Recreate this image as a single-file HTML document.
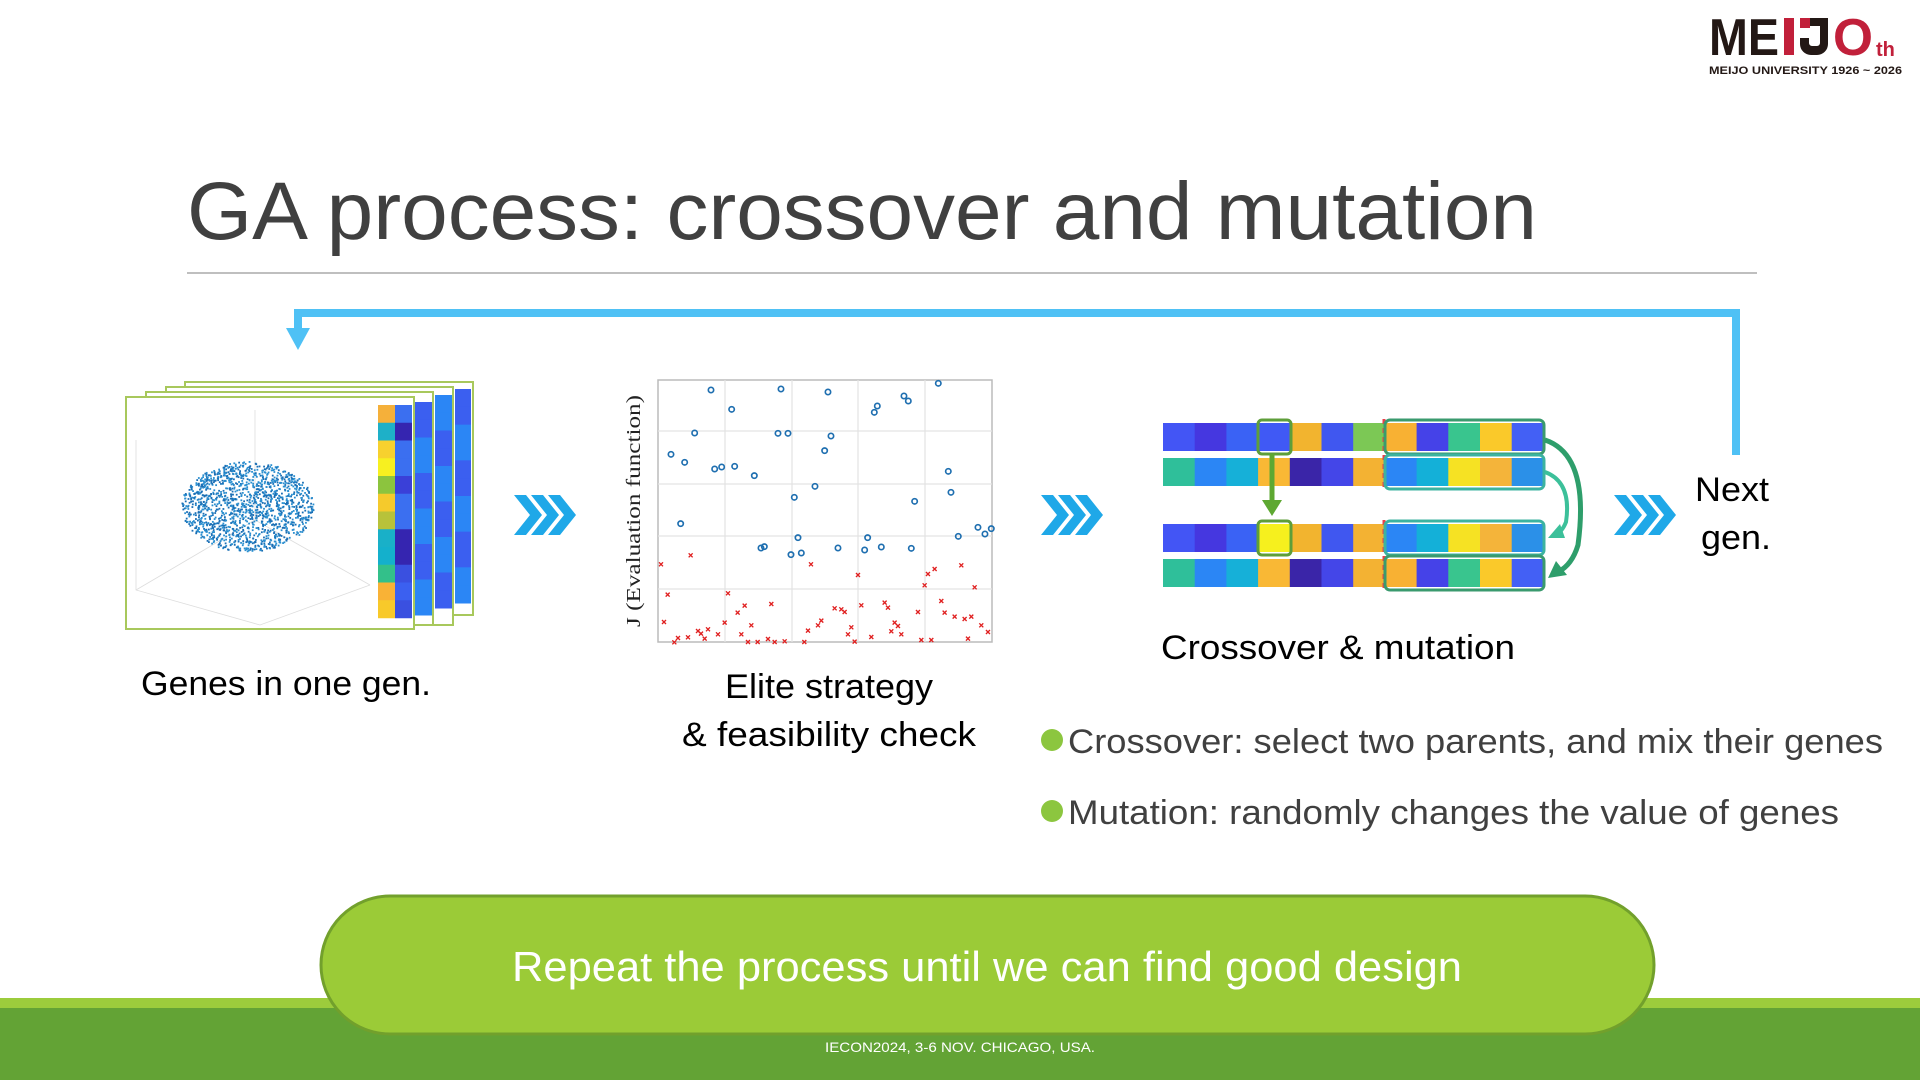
<!DOCTYPE html>
<html><head><meta charset="utf-8"><style>
html,body{margin:0;padding:0;background:#fff;}
svg{display:block;}
text{font-family:"Liberation Sans",sans-serif;}
</style></head><body>
<svg id="s" width="1920" height="1080" viewBox="0 0 1920 1080" xmlns="http://www.w3.org/2000/svg">
<rect width="1920" height="1080" fill="#fff"/>
<!-- logo -->
<text x="1709" y="55" font-size="52" font-weight="bold" fill="#231815" textLength="70" lengthAdjust="spacingAndGlyphs">ME</text>
<rect x="1784" y="18" width="10" height="37" fill="#c1203a"/>
<path d="M1800 18 h28 v26 a11 11 0 0 1 -11 11 h-6 a11 11 0 0 1 -11 -11 v-6 h9 v5 a3 3 0 0 0 3 3 h5 a3 3 0 0 0 3 -3 v-17 h-20 z" fill="#231815"/>
<rect x="1800" y="18" width="10" height="10" fill="#c1203a"/>
<text x="1833" y="55" font-size="52" font-weight="bold" fill="#c1203a" textLength="40" lengthAdjust="spacingAndGlyphs">O</text>
<text x="1876" y="56" font-size="20" font-weight="bold" fill="#c1203a">th</text>
<text x="1709" y="74" font-size="11" font-weight="bold" fill="#231815" textLength="193" lengthAdjust="spacingAndGlyphs">MEIJO UNIVERSITY 1926 ~ 2026</text>

<!-- title -->
<text x="187" y="239" font-size="82" fill="#404040" textLength="1350" lengthAdjust="spacingAndGlyphs">GA process: crossover and mutation</text>
<line x1="187" y1="273" x2="1757" y2="273" stroke="#bfbfbf" stroke-width="2"/>

<!-- feedback arrow -->
<polyline points="1736,455 1736,313 298,313 298,332" fill="none" stroke="#4fc1f5" stroke-width="8" stroke-linejoin="miter"/>
<polygon points="286,328 310,328 298,350" fill="#4fc1f5"/>

<!-- gene frames -->
<g stroke="#a8c85c" stroke-width="2" fill="#fff">
<rect x="185" y="382" width="288" height="233"/>
<rect x="166" y="387" width="287" height="238"/>
<rect x="146" y="392" width="287" height="233"/>
<rect x="126" y="397" width="288" height="232"/>
</g>
<g id="back"></g>
<g id="front"></g>
<g id="scatter3d"></g>

<!-- chevrons -->
<g fill="#1fa8e8">
<g id="chev1" transform="translate(514,495)">
<polygon points="0,0 12,0 28,20 12,40 0,40 16,20"/>
<polygon transform="translate(17,0)" points="0,0 12,0 28,20 12,40 0,40 16,20"/>
<polygon transform="translate(34,0)" points="0,0 12,0 28,20 12,40 0,40 16,20"/>
</g>
<g transform="translate(1041,495)">
<polygon points="0,0 12,0 28,20 12,40 0,40 16,20"/>
<polygon transform="translate(17,0)" points="0,0 12,0 28,20 12,40 0,40 16,20"/>
<polygon transform="translate(34,0)" points="0,0 12,0 28,20 12,40 0,40 16,20"/>
</g>
<g transform="translate(1614,495)">
<polygon points="0,0 12,0 28,20 12,40 0,40 16,20"/>
<polygon transform="translate(17,0)" points="0,0 12,0 28,20 12,40 0,40 16,20"/>
<polygon transform="translate(34,0)" points="0,0 12,0 28,20 12,40 0,40 16,20"/>
</g>
</g>

<!-- scatter plot -->
<g id="plot">
<rect x="658" y="380" width="334" height="262" fill="#fff" stroke="#bbb" stroke-width="1.5"/>
<g stroke="#e3e3e3" stroke-width="1.2">
<line x1="725" y1="380" x2="725" y2="642"/><line x1="792" y1="380" x2="792" y2="642"/>
<line x1="858" y1="380" x2="858" y2="642"/><line x1="925" y1="380" x2="925" y2="642"/>
<line x1="658" y1="431" x2="992" y2="431"/><line x1="658" y1="484" x2="992" y2="484"/>
<line x1="658" y1="536" x2="992" y2="536"/><line x1="658" y1="589" x2="992" y2="589"/>
</g>
<text transform="translate(640,627) rotate(-90)" font-family="Liberation Serif,serif" font-size="20" fill="#222" textLength="232" lengthAdjust="spacingAndGlyphs" style="font-family:'Liberation Serif',serif">J (Evaluation function)</text>
<g id="pts" transform="translate(620,370) scale(0.3333)"></g>
</g>

<!-- crossover graphic -->
<g id="cross"></g>

<!-- labels -->
<g fill="#000" font-size="34">
<text x="141" y="695" textLength="290" lengthAdjust="spacingAndGlyphs">Genes in one gen.</text>
<text x="725" y="698" textLength="208" lengthAdjust="spacingAndGlyphs">Elite strategy</text>
<text x="682" y="746" textLength="294" lengthAdjust="spacingAndGlyphs">&amp; feasibility check</text>
<text x="1161" y="659" textLength="354" lengthAdjust="spacingAndGlyphs">Crossover &amp; mutation</text>
<text x="1695" y="501" textLength="74" lengthAdjust="spacingAndGlyphs">Next</text>
<text x="1701" y="549" textLength="70" lengthAdjust="spacingAndGlyphs">gen.</text>
</g>
<circle cx="1052" cy="740" r="11" fill="#8cc63f"/>
<circle cx="1052" cy="811" r="11" fill="#8cc63f"/>
<g fill="#404040" font-size="34">
<text x="1068" y="753" textLength="815" lengthAdjust="spacingAndGlyphs">Crossover: select two parents, and mix their genes</text>
<text x="1068" y="824" textLength="771" lengthAdjust="spacingAndGlyphs">Mutation: randomly changes the value of genes</text>
</g>

<!-- bottom -->
<rect x="0" y="998" width="1920" height="10" fill="#9ccc3c"/>
<rect x="0" y="1008" width="1920" height="72" fill="#63a335"/>
<rect x="321" y="896" width="1333" height="138" rx="69" ry="69" fill="#9bcb37" stroke="#72a02c" stroke-width="3"/>
<text x="512" y="981" font-size="42" fill="#fff" textLength="950" lengthAdjust="spacingAndGlyphs">Repeat the process until we can find good design</text>
<text x="825" y="1052" font-size="14" fill="#fff" textLength="270" lengthAdjust="spacingAndGlyphs">IECON2024, 3-6 NOV. CHICAGO, USA.</text>
</svg>
<script>
var NS="http://www.w3.org/2000/svg";
function el(p,t,a){var e=document.createElementNS(NS,t);for(var k in a)e.setAttribute(k,a[k]);p.appendChild(e);return e;}
// back strips
var back=document.getElementById('back');
var bl=['#3b5ff0','#3548e0','#2b86f5','#3525b0'];
[[415,402,17,213],[435,395,17,213],[455,389,16,214]].forEach(function(s,j){
 for(var i=0;i<12;i++){el(back,'rect',{x:s[0],y:s[1]+i*s[3]/12,width:s[2],height:s[3]/12+0.5,fill:bl[(i*3+j*2+i%2)%4]});}
});
var front=document.getElementById('front');
var c1=['#f5b03a','#1eb0c8','#f7d12e','#f7f020','#8cc43e','#f5ca2c','#b8c23a','#19b0c8','#14b0cc','#33c08a','#f9b236','#f8c92a'];
var c2=['#3b6ff0','#3525b0','#3b6ff0','#3b6ff0','#3a40d8','#3b6ff0','#3b6ff0','#3525b0','#3525b0','#3a50e0','#3b60f0','#3a50e0'];
for(var i=0;i<12;i++){el(front,'rect',{x:378,y:405+i*17.75,width:17,height:18,fill:c1[i]});el(front,'rect',{x:395,y:405+i*17.75,width:17,height:18,fill:c2[i]});}
// 3d scatter
var sc=document.getElementById('scatter3d');
var g=el(sc,'g',{stroke:'#ddd','stroke-width':'0.8',fill:'none'});
el(g,'polyline',{points:'136,440 136,590 260,625 370,585'});
el(g,'line',{x1:136,y1:590,x2:255,y2:520});el(g,'line',{x1:255,y1:410,x2:255,y2:520});el(g,'line',{x1:255,y1:520,x2:370,y2:585});
var seed=7;function r(){seed=(seed*16807)%2147483647;return seed/2147483647;}
for(var i=0;i<1500;i++){var a=r()*6.283,d=Math.sqrt(r());var x=247+Math.cos(a)*d*66,y=506+Math.sin(a)*d*45;el(sc,'rect',{x:x,y:y,width:1.8,height:1.8,fill:(r()<0.5?'#1a6fb5':'#2a8fd0')});}
// plot points
var pts=document.getElementById('pts');
var C=[[273,60],[483,57],[624,66],[955,40],[852,78],[865,93],[772,108],[763,127],[335,118],[224,189],[474,190],[504,190],[633,198],[153,253],[194,277],[614,242],[284,297],[305,291],[344,289],[403,317],[585,349],[523,382],[985,304],[993,367],[884,394],[182,461],[1074,472],[1095,492],[1114,476],[1015,499],[534,503],[743,503],[423,534],[433,530],[513,554],[544,549],[654,534],[734,540],[784,531],[874,535]];
C.forEach(function(p){el(pts,'circle',{cx:p[0],cy:p[1],r:8,fill:'none',stroke:'#1f6fb0','stroke-width':5});});
var X=[[123,583],[212,556],[143,674],[132,756],[163,817],[174,804],[204,802],[234,783],[243,791],[254,806],[264,778],[294,793],[314,758],[324,670],[353,728],[364,793],[374,707],[384,816],[394,766],[413,816],[444,807],[454,702],[464,816],[494,814],[553,816],[564,782],[573,583],[594,766],[604,752],[644,715],[664,718],[674,726],[684,793],[694,772],[704,815],[714,615],[724,706],[754,801],[794,698],[804,713],[814,784],[824,758],[834,768],[844,793],[894,726],[904,810],[914,646],[924,612],[934,810],[944,597],[964,693],[974,728],[1004,740],[1024,586],[1034,747],[1044,806],[1054,740],[1064,652],[1084,766],[1104,786]];
X.forEach(function(p){el(pts,'path',{d:'M'+(p[0]-6)+' '+(p[1]-6)+'l12 12M'+(p[0]+6)+' '+(p[1]-6)+'l-12 12',stroke:'#e02020','stroke-width':4});});
// crossover
var cr=document.getElementById('cross');
var A=['#4355f5','#4537e0','#3a62f5','#4059f5','#f2b42f','#4057f0','#7cc855'];
var B=['#2fbf9a','#2b86f5','#16b0d8','#f9b835','#3a25a8','#4446e8','#f3b233'];
var AR=['#f8b133','#4542e8','#39c58e','#fac92a','#4360f5'];
var BR=['#2b86f5','#14b0d8','#f6e223','#f4b43a','#2b90e8'];
var A3=A.slice();A3[3]='#f6f01e';A3[6]='#f3b233';
var rows=[[423,A.concat(AR)],[458,B.concat(BR)],[524,A3.concat(BR)],[559,B.concat(AR)]];
rows.forEach(function(rw){rw[1].forEach(function(c,i){el(cr,'rect',{x:1163+i*31.7,y:rw[0],width:32.2,height:28,fill:c});});});
// cut lines
[[419,489],[520,592]].forEach(function(s){el(cr,'line',{x1:1384,y1:s[0],x2:1384,y2:s[1],stroke:'#e8404a','stroke-width':3,'stroke-dasharray':'5 4'});});
// boxes
[[1258,420],[1258,521]].forEach(function(b){el(cr,'rect',{x:b[0],y:b[1],width:33,height:34,rx:4,fill:'none',stroke:'#5e9e3a','stroke-width':3});});
[[420,'#3a9a6e'],[455,'#3cb3a0'],[521,'#3cb3a0'],[556,'#3a9a6e']].forEach(function(b){el(cr,'rect',{x:1385,y:b[0],width:159,height:34,rx:5,fill:'none',stroke:b[1],'stroke-width':3});});
el(cr,'line',{x1:1272,y1:454,x2:1272,y2:503,stroke:'#5ea832','stroke-width':5});
el(cr,'polygon',{points:'1262,500 1282,500 1272,516',fill:'#5ea832'});
el(cr,'path',{d:'M1545 440 Q1590 455 1578 545 Q1572 565 1558 572',fill:'none',stroke:'#2e9e6b','stroke-width':5});
el(cr,'polygon',{points:'1548,578 1556,561 1567,575',fill:'#2e9e6b'});
el(cr,'path',{d:'M1545 472 Q1572 482 1566 522 Q1562 532 1556 534',fill:'none',stroke:'#3cc09a','stroke-width':4});
el(cr,'polygon',{points:'1548,538 1560,524 1565,538',fill:'#3cc09a'});
</script>
</body></html>
